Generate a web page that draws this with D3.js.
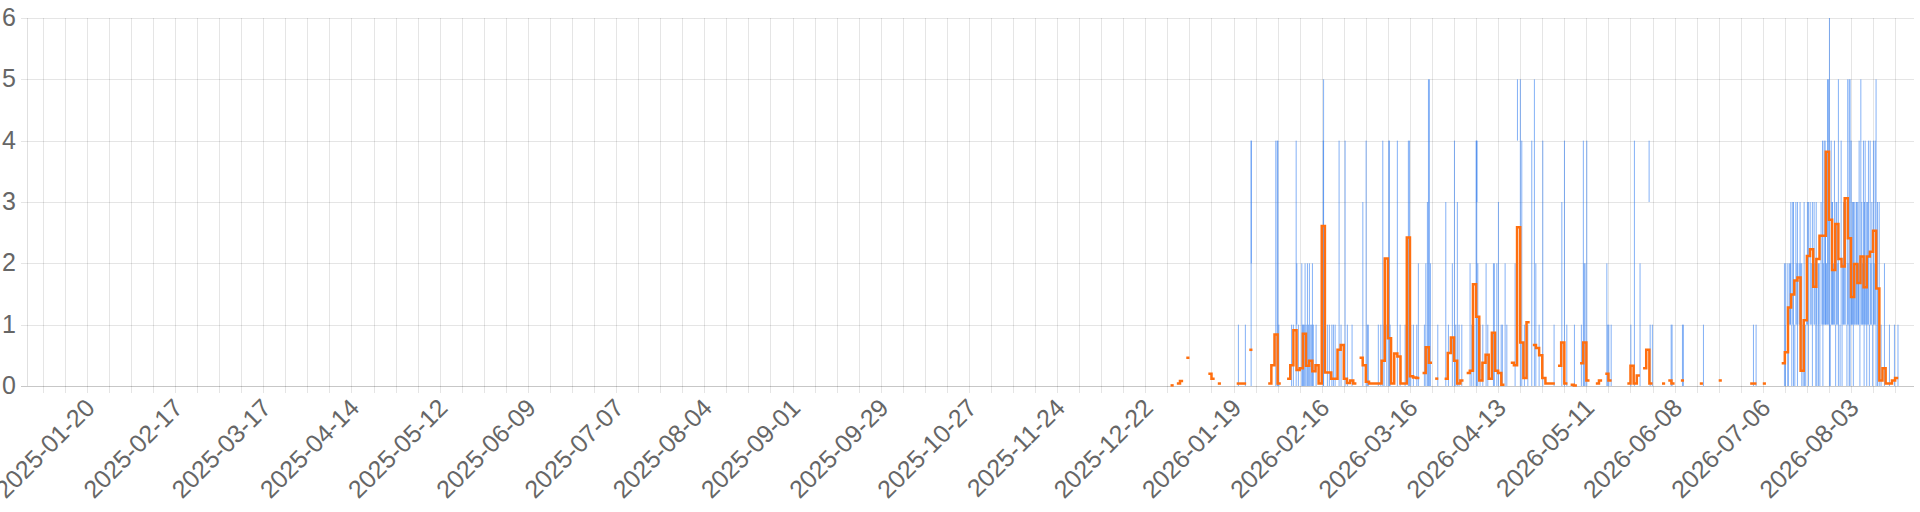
<!DOCTYPE html>
<html><head><meta charset="utf-8">
<script src="https://cdn.jsdelivr.net/npm/d3@7"></script>
<style>html,body{margin:0;padding:0;background:#fff;} svg{display:block;}</style>
</head><body>
<svg id="chart" width="1920" height="512"></svg>
<script>
// ---------- data ----------
const xDomain = ["2025-01-01", "2026-08-23"];
const yTicks = [0, 1, 2, 3, 4, 5, 6];
const xTickLabels = ["2025-01-20","2025-02-17","2025-03-17","2025-04-14","2025-05-12","2025-06-09","2025-07-07",
  "2025-08-04","2025-09-01","2025-09-29","2025-10-27","2025-11-24","2025-12-22","2026-01-19","2026-02-16",
  "2026-03-16","2026-04-13","2026-05-11","2026-06-08","2026-07-06","2026-08-03"];

// daily average (orange step line); missing days are gaps
const avgDays = ["2025-12-30","2026-01-01","2026-01-02","2026-01-04","2026-01-11","2026-01-12","2026-01-14",
  "2026-01-20","2026-01-21","2026-01-22","2026-01-24","2026-01-30","2026-01-31","2026-02-01","2026-02-02",
  "2026-02-05","2026-02-06","2026-02-07","2026-02-08","2026-02-09","2026-02-10","2026-02-11","2026-02-12",
  "2026-02-13","2026-02-14","2026-02-15","2026-02-16","2026-02-17","2026-02-18","2026-02-19","2026-02-20",
  "2026-02-21","2026-02-22","2026-02-23","2026-02-24","2026-02-25","2026-02-26","2026-02-28","2026-03-01",
  "2026-03-02","2026-03-03","2026-03-04","2026-03-05","2026-03-06","2026-03-07","2026-03-08","2026-03-09",
  "2026-03-10","2026-03-11","2026-03-12","2026-03-13","2026-03-14","2026-03-15","2026-03-16","2026-03-17",
  "2026-03-18","2026-03-20","2026-03-21","2026-03-22","2026-03-24","2026-03-27","2026-03-28","2026-03-29",
  "2026-03-30","2026-03-31","2026-04-01","2026-04-03","2026-04-04","2026-04-05","2026-04-06","2026-04-07",
  "2026-04-08","2026-04-09","2026-04-10","2026-04-11","2026-04-12","2026-04-13","2026-04-14","2026-04-17",
  "2026-04-18","2026-04-19","2026-04-20","2026-04-21","2026-04-22","2026-04-24","2026-04-25","2026-04-26",
  "2026-04-27","2026-04-28","2026-04-29","2026-04-30","2026-05-02","2026-05-03","2026-05-04","2026-05-06",
  "2026-05-07","2026-05-09","2026-05-10","2026-05-11","2026-05-14","2026-05-15","2026-05-17","2026-05-18",
  "2026-05-24","2026-05-25","2026-05-26","2026-05-27","2026-05-29","2026-05-30","2026-05-31","2026-06-04",
  "2026-06-06","2026-06-07","2026-06-10","2026-06-16","2026-06-22","2026-07-02","2026-07-03","2026-07-06",
  "2026-07-12","2026-07-13","2026-07-14","2026-07-15","2026-07-16","2026-07-17","2026-07-18","2026-07-19",
  "2026-07-20","2026-07-21","2026-07-22","2026-07-23","2026-07-24","2026-07-25","2026-07-26","2026-07-27",
  "2026-07-28","2026-07-29","2026-07-30","2026-07-31","2026-08-01","2026-08-02","2026-08-03","2026-08-04",
  "2026-08-05","2026-08-06","2026-08-07","2026-08-08","2026-08-09","2026-08-10","2026-08-11","2026-08-12",
  "2026-08-13","2026-08-14","2026-08-15","2026-08-16","2026-08-17"];
const avgValues = [0.01,0.04,0.08,0.46,0.2,0.12,0.04,
  0.04,0.04,0.04,0.59,0.04,0.34,0.84,0.04,
  0.12,0.34,0.91,0.26,0.29,0.85,0.33,0.41,
  0.24,0.34,0.04,2.61,0.22,0.22,0.12,0.12,
  0.59,0.67,0.12,0.05,0.09,0.04,0.46,0.34,
  0.07,0.04,0.04,0.04,0.04,0.41,2.08,0.78,
  0.04,0.53,0.48,0.04,0.04,2.42,0.16,0.14,
  0.13,0.21,0.63,0.38,0.12,0.12,0.54,0.79,
  0.41,0.04,0.09,0.21,0.25,1.66,1.13,0.09,
  0.38,0.51,0.12,0.87,0.25,0.21,0.02,0.38,
  0.34,2.59,0.71,0.13,1.04,0.67,0.62,0.5,
  0.13,0.04,0.04,0.04,0.33,0.71,0.04,0.02,
  0.01,0.37,0.71,0.09,0.04,0.09,0.2,0.09,
  0.04,0.33,0.04,0.17,0.29,0.59,0.04,0.04,
  0.09,0.04,0.09,0.04,0.09,0.04,0.04,0.04,
  0.37,0.55,1.28,1.49,1.72,1.77,0.25,1.07,
  2.12,2.23,1.62,2.07,2.45,2.45,3.82,2.71,
  1.89,2.64,2.07,1.95,3.06,2.41,1.45,1.99,
  1.68,2.11,1.61,2.11,2.19,2.53,1.59,0.09,
  0.29,0.04,0.04,0.09,0.13];

// hourly counts (blue): [hour, level before, level reached]
const hourlySpikes = [
  ["2026-01-20T13",0,1],["2026-01-22T18",0,1],["2026-01-24T14",0,4],["2026-01-24T15",2,4],
  ["2026-02-01T10",0,4],["2026-02-01T21",0,4],["2026-02-02T02",0,4],["2026-02-02T09",0,1],
  ["2026-02-06T10",0,1],["2026-02-07T00",0,1],["2026-02-07T21",0,4],["2026-02-08T02",1,2],
  ["2026-02-08T14",0,1],["2026-02-09T16",0,2],["2026-02-09T23",0,1],["2026-02-10T03",0,1],
  ["2026-02-10T10",0,1],["2026-02-10T17",0,2],["2026-02-11T01",0,1],["2026-02-11T11",0,2],
  ["2026-02-11T18",0,1],["2026-02-12T02",0,2],["2026-02-12T12",0,1],["2026-02-12T20",0,1],
  ["2026-02-13T01",0,2],["2026-02-13T08",0,1],["2026-02-14T05",0,1],["2026-02-16T12",0,4],
  ["2026-02-16T14",0,5],["2026-02-17T19",0,1],["2026-02-18T10",0,1],["2026-02-19T05",0,1],
  ["2026-02-19T17",0,1],["2026-02-20T06",0,1],["2026-02-21T12",0,4],["2026-02-22T03",0,1],
  ["2026-02-23T10",0,4],["2026-02-24T03",0,1],["2026-02-25T15",0,1],
  ["2026-03-01T01",0,3],["2026-03-02T02",0,4],["2026-03-02T12",0,1],["2026-03-02T19",0,1],
  ["2026-03-05T23",0,1],["2026-03-06T18",0,1],["2026-03-07T09",0,4],["2026-03-07T19",0,1],
  ["2026-03-08T16",0,1],["2026-03-09T07",0,4],["2026-03-09T11",0,4],["2026-03-09T17",0,1],
  ["2026-03-12T00",0,4],["2026-03-12T21",0,1],["2026-03-14T11",0,1],["2026-03-15T12",0,4],
  ["2026-03-15T20",0,4],["2026-03-16T06",0,1],["2026-03-17T02",0,1],["2026-03-18T04",0,1],
  ["2026-03-18T16",0,2],["2026-03-20T14",0,1],["2026-03-21T01",0,2],["2026-03-21T13",0,3],
  ["2026-03-21T21",0,5],["2026-03-22T04",0,5],["2026-03-22T12",0,2],["2026-03-24T20",0,1],
  ["2026-03-27T09",0,3],["2026-03-28T05",0,1],["2026-03-29T11",0,2],["2026-03-30T03",0,4],
  ["2026-03-30T13",0,1],["2026-03-31T01",0,3],["2026-03-31T14",0,1],
  ["2026-04-01T11",0,1],["2026-04-04T02",0,2],["2026-04-04T15",0,1],["2026-04-05T06",0,1],
  ["2026-04-06T00",0,4],["2026-04-06T05",0,4],["2026-04-06T06",3,4],["2026-04-06T13",0,2],
  ["2026-04-07T06",0,1],["2026-04-08T03",0,1],["2026-04-09T04",0,2],["2026-04-09T17",0,1],
  ["2026-04-11T12",0,2],["2026-04-11T19",0,2],["2026-04-12T14",0,2],["2026-04-13T02",0,3],
  ["2026-04-13T23",0,1],["2026-04-14T08",0,1],["2026-04-15T05",0,2],["2026-04-15T18",0,1],
  ["2026-04-18T09",0,2],["2026-04-19T03",4,5],["2026-04-20T01",0,5],["2026-04-20T12",0,4],
  ["2026-04-21T08",0,1],["2026-04-22T10",0,1],["2026-04-23T16",0,4],["2026-04-24T12",0,5],
  ["2026-04-24T23",0,2],["2026-04-26T00",0,1],["2026-04-27T04",0,4],["2026-04-30T18",0,1],
  ["2026-05-03T05",0,3],["2026-05-04T01",0,4],["2026-05-04T19",0,1],["2026-05-07T05",0,1],
  ["2026-05-09T10",0,1],["2026-05-10T01",0,4],["2026-05-10T07",0,2],["2026-05-10T14",0,2],
  ["2026-05-11T03",0,4],["2026-05-17T12",0,2],["2026-05-17T19",0,1],["2026-05-18T03",0,1],
  ["2026-05-18T21",0,1],["2026-05-25T03",0,1],["2026-05-26T06",0,4],["2026-05-28T01",0,2],
  ["2026-05-30T22",3,4],["2026-05-31T06",0,1],["2026-05-31T23",0,1],
  ["2026-06-06T22",0,1],["2026-06-07T05",0,1],["2026-06-10T12",0,1],["2026-06-10T19",0,1],
  ["2026-06-17T04",0,1],["2026-07-03T01",0,1],["2026-07-03T21",0,1],
  ["2026-07-12T21",0,2],["2026-07-13T05",0,1],["2026-07-13T07",1,2],["2026-07-13T23",0,2],
  ["2026-07-14T02",0,1],["2026-07-14T11",1,2],["2026-07-14T20",1,2],["2026-07-14T22",1,3],
  ["2026-07-15T05",0,1],["2026-07-15T12",1,3],["2026-07-15T18",0,3],["2026-07-16T04",0,1],
  ["2026-07-16T12",1,3],["2026-07-16T20",1,2],["2026-07-17T00",0,3],["2026-07-17T13",1,2],
  ["2026-07-17T20",1,3],["2026-07-18T02",1,2],["2026-07-18T09",0,2],["2026-07-18T20",0,1],
  ["2026-07-19T03",1,3],["2026-07-19T06",0,1],["2026-07-19T15",0,1],["2026-07-19T22",1,2],
  ["2026-07-20T04",1,3],["2026-07-20T12",0,3],["2026-07-21T01",1,3],["2026-07-21T09",1,2],
  ["2026-07-21T18",0,3],["2026-07-22T07",1,3],["2026-07-22T14",1,2],["2026-07-22T20",0,1],
  ["2026-07-22T23",1,3],["2026-07-23T04",0,2],["2026-07-23T16",0,2],["2026-07-23T22",1,2],
  ["2026-07-24T03",0,1],["2026-07-24T12",1,3],["2026-07-24T23",1,4],["2026-07-25T02",0,1],
  ["2026-07-25T05",1,2],["2026-07-25T11",1,4],["2026-07-25T19",1,4],["2026-07-25T22",1,3],
  ["2026-07-26T05",1,2],["2026-07-26T13",1,5],["2026-07-26T20",1,5],["2026-07-27T04",0,6],
  ["2026-07-27T10",0,1],["2026-07-27T17",1,4],["2026-07-27T23",1,3],["2026-07-28T03",1,3],
  ["2026-07-28T11",1,2],["2026-07-28T18",1,4],["2026-07-29T03",0,1],["2026-07-29T06",1,3],
  ["2026-07-29T12",1,3],["2026-07-29T20",1,2],["2026-07-30T00",0,5],["2026-07-30T13",0,1],
  ["2026-07-30T21",1,4],["2026-07-31T04",0,1],["2026-07-31T08",1,2],["2026-07-31T15",1,3],
  ["2026-07-31T22",1,3],["2026-08-01T08",1,3],["2026-08-01T17",0,1],["2026-08-01T23",1,5],
  ["2026-08-02T02",1,2],["2026-08-02T10",0,5],["2026-08-02T17",0,5],["2026-08-03T01",1,4],
  ["2026-08-03T06",1,2],["2026-08-03T11",1,3],["2026-08-03T18",0,1],["2026-08-03T20",1,3],
  ["2026-08-04T00",1,3],["2026-08-04T07",1,2],["2026-08-04T15",1,3],["2026-08-04T20",1,3],
  ["2026-08-05T04",1,3],["2026-08-05T09",1,2],["2026-08-05T14",1,4],["2026-08-05T20",0,1],
  ["2026-08-06T03",1,5],["2026-08-06T10",1,3],["2026-08-06T16",1,2],["2026-08-06T23",1,4],
  ["2026-08-07T04",0,1],["2026-08-07T07",1,3],["2026-08-07T12",1,4],["2026-08-07T19",1,2],
  ["2026-08-08T00",0,3],["2026-08-08T07",1,3],["2026-08-08T13",1,4],["2026-08-08T20",0,1],
  ["2026-08-09T02",1,4],["2026-08-09T08",1,2],["2026-08-09T15",1,3],["2026-08-09T21",0,1],
  ["2026-08-10T03",1,4],["2026-08-10T09",1,2],["2026-08-10T16",1,4],["2026-08-10T23",0,5],
  ["2026-08-11T10",0,3],["2026-08-11T23",0,3],["2026-08-12T13",0,1],["2026-08-13T15",0,2],
  ["2026-08-15T05",0,1],["2026-08-16T19",0,1],["2026-08-17T22",0,1]
];

// ---------- drawing ----------
const parseDay = d3.utcParse("%Y-%m-%d");
const parseHour = d3.utcParse("%Y-%m-%dT%H");
const plot = {left: 27, right: 1914, top: 18, bottom: 386};
const FONT = "'Liberation Sans', Arial, Helvetica, sans-serif";

const x = d3.scaleUtc().domain(xDomain.map(parseDay)).range([plot.left, plot.right]);
const y = d3.scaleLinear().domain([0, 6]).range([plot.bottom, plot.top]);
const svg = d3.select("#chart");
const crisp = v => Math.round(v) + 0.5;

// weekly vertical grid lines (with tick marks below the axis)
const weeks = d3.utcMonday.range(x.domain()[0], x.domain()[1]);
svg.append("g").selectAll("line").data(weeks).join("line")
  .attr("x1", d => crisp(x(d))).attr("x2", d => crisp(x(d)))
  .attr("y1", plot.top).attr("y2", plot.bottom + 7)
  .attr("stroke", "rgba(0,0,0,0.1)").attr("stroke-width", 1);

// left border
svg.append("line")
  .attr("x1", crisp(plot.left)).attr("x2", crisp(plot.left))
  .attr("y1", plot.top).attr("y2", plot.bottom)
  .attr("stroke", "rgba(0,0,0,0.12)");

// horizontal grid lines
svg.append("g").selectAll("line").data(yTicks).join("line")
  .attr("x1", plot.left - 6).attr("x2", plot.right)
  .attr("y1", d => crisp(y(d))).attr("y2", d => crisp(y(d)))
  .attr("stroke", d => d === 0 ? "rgba(0,0,0,0.22)" : "rgba(0,0,0,0.1)")
  .attr("stroke-width", 1);

// y labels
svg.append("g").selectAll("text").data(yTicks).join("text")
  .attr("x", 16).attr("y", d => y(d) - 1)
  .attr("text-anchor", "end").attr("dominant-baseline", "central")
  .attr("font-family", FONT).attr("font-size", 25).attr("fill", "#666")
  .text(d => d);

// x labels (rotated)
svg.append("g").selectAll("text").data(xTickLabels).join("text")
  .attr("transform", d => `translate(${x(parseDay(d)) + 3},403) rotate(-45)`)
  .attr("text-anchor", "end").attr("dominant-baseline", "central")
  .attr("font-family", FONT).attr("font-size", 25).attr("fill", "#666")
  .text(d => d);

// blue hourly spikes
svg.append("g").selectAll("line").data(hourlySpikes).join("line")
  .attr("x1", d => x(parseHour(d[0]))).attr("x2", d => x(parseHour(d[0])))
  .attr("y1", d => y(d[1])).attr("y2", d => y(d[2]))
  .attr("stroke", "rgb(50,125,240)").attr("stroke-opacity", 0.6).attr("stroke-width", 1);

// orange daily step line, broken where days are missing
const pts = avgDays.map((d, i) => ({t: parseDay(d), v: avgValues[i]}));
const runs = [];
pts.forEach((p, i) => {
  if (i > 0 && +d3.utcDay.offset(pts[i - 1].t, 1) === +p.t) runs[runs.length - 1].push(p);
  else runs.push([p]);
});
const stepLine = d3.line().x(p => x(p.t)).y(p => y(p.v)).curve(d3.curveStepAfter);
svg.append("g").selectAll("path").data(runs).join("path")
  .attr("d", r => stepLine([...r, {t: d3.utcDay.offset(r[r.length - 1].t, 1), v: r[r.length - 1].v}]))
  .attr("fill", "none").attr("stroke", "#ff6f0f").attr("stroke-width", 2.5)
  .attr("stroke-linejoin", "miter");
</script>
</body></html>
